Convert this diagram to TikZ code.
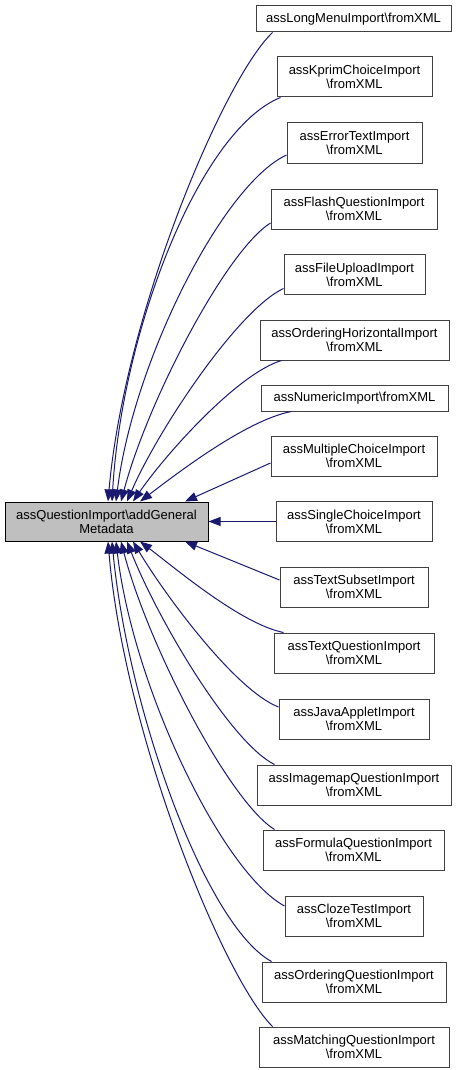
\documentclass[tikz,border=0pt]{standalone}
\usepackage{fontspec}
\setmainfont{Liberation Sans}
\usetikzlibrary{arrows.meta}
\definecolor{edgecol}{HTML}{191970}
\definecolor{mainfill}{HTML}{BFBFBF}
\definecolor{boxborder}{HTML}{404040}
\begin{document}
\begin{tikzpicture}[x=1pt,y=-1pt,
  box/.style={draw=boxborder, line width=1pt, fill=white, align=center, inner sep=0pt,
    minimum height=40pt, font=\fontsize{13}{14}\selectfont},
  edge/.style={draw=edgecol, line width=1pt, -{Triangle[length=12pt,width=9pt]}}]
\useasboundingbox (0,0) rectangle (459,1070);
\node[box, draw=black, fill=mainfill, minimum width=203pt, minimum height=39pt] (main) at (106.5,521.5) {assQuestionImport\textbackslash{}addGeneral\\Metadata};
\node[box, minimum width=195pt, minimum height=26pt] (n1) at (353.5,19) {assLongMenuImport\textbackslash{}fromXML};
\node[box, minimum width=155pt] (n2) at (354.5,77) {assKprimChoiceImport\\\textbackslash{}fromXML};
\node[box, minimum width=135pt] (n3) at (354.5,143) {assErrorTextImport\\\textbackslash{}fromXML};
\node[box, minimum width=166pt] (n4) at (354,209) {assFlashQuestionImport\\\textbackslash{}fromXML};
\node[box, minimum width=141pt] (n5) at (354.5,274.5) {assFileUploadImport\\\textbackslash{}fromXML};
\node[box, minimum width=189pt] (n6) at (354.5,340) {assOrderingHorizontalImport\\\textbackslash{}fromXML};
\node[box, minimum width=187pt, minimum height=26pt] (n7) at (354.5,398) {assNumericImport\textbackslash{}fromXML};
\node[box, minimum width=166pt] (n8) at (354,456) {assMultipleChoiceImport\\\textbackslash{}fromXML};
\node[box, minimum width=156pt] (n9) at (354,521.5) {assSingleChoiceImport\\\textbackslash{}fromXML};
\node[box, minimum width=148pt] (n10) at (354,587) {assTextSubsetImport\\\textbackslash{}fromXML};
\node[box, minimum width=160pt] (n11) at (354,653) {assTextQuestionImport\\\textbackslash{}fromXML};
\node[box, minimum width=150pt] (n12) at (354,719) {assJavaAppletImport\\\textbackslash{}fromXML};
\node[box, minimum width=194pt] (n13) at (354,785) {assImagemapQuestionImport\\\textbackslash{}fromXML};
\node[box, minimum width=181pt] (n14) at (353.5,850) {assFormulaQuestionImport\\\textbackslash{}fromXML};
\node[box, minimum width=138pt] (n15) at (354,916) {assClozeTestImport\\\textbackslash{}fromXML};
\node[box, minimum width=184pt] (n16) at (354,982) {assOrderingQuestionImport\\\textbackslash{}fromXML};
\node[box, minimum width=190pt] (n17) at (354,1047) {assMatchingQuestionImport\\\textbackslash{}fromXML};
% upper edges
\draw[edge] ([xshift=17pt]n1.south west) .. controls (223.5,79) and (124.5,314) .. ([xshift=1.5pt]main.north);
\draw[edge] ([xshift=4pt]n2.south west) .. controls (200,130) and (122,330) .. ([xshift=5.5pt]main.north);
\draw[edge] ([yshift=-12pt]n3.west) .. controls (222,185) and (133,363) .. ([xshift=9.5pt]main.north);
\draw[edge] ([yshift=-14pt]n4.west) .. controls (226,251) and (148,400) .. ([xshift=14.5pt]main.north);
\draw[edge] ([yshift=-14pt]n5.west) .. controls (237.6,310) and (158,430) .. ([xshift=20.5pt]main.north);
\draw[edge] ([xshift=22pt]n6.south west) .. controls (237,374) and (165,455) .. ([xshift=26.5pt]main.north);
\draw[edge] ([xshift=31pt]n7.south west) .. controls (246,420) and (175,475) .. ([xshift=33.5pt]main.north);
\draw[edge] ([yshift=-7pt]n8.west) -- ([xshift=78.5pt]main.north);
\draw[edge] (n9.west) -- (main.east);
% lower edges
\draw[edge] ([yshift=7pt]n10.west) -- ([xshift=78.5pt]main.south);
\draw[edge] ([xshift=10pt]n11.north west) .. controls (241,624) and (175,568) .. ([xshift=33.5pt]main.south);
\draw[edge] ([yshift=12pt]n12.west) .. controls (235,690) and (165,595) .. ([xshift=26.5pt]main.south);
\draw[edge] ([xshift=18pt]n13.north west) .. controls (230.6,742.6) and (158,620) .. ([xshift=20.5pt]main.south);
\draw[edge] ([xshift=12pt]n14.north west) .. controls (228.8,801) and (148,645) .. ([xshift=14.5pt]main.south);
\draw[edge] ([yshift=10pt]n15.west) .. controls (222,872) and (133,687) .. ([xshift=9.5pt]main.south);
\draw[edge] ([xshift=10pt]n16.north west) .. controls (205,925) and (128,709) .. ([xshift=5.5pt]main.south);
\draw[edge] ([xshift=14pt]n17.north west) .. controls (223.5,978) and (124.5,735) .. ([xshift=1.5pt]main.south);
\end{tikzpicture}
\end{document}
